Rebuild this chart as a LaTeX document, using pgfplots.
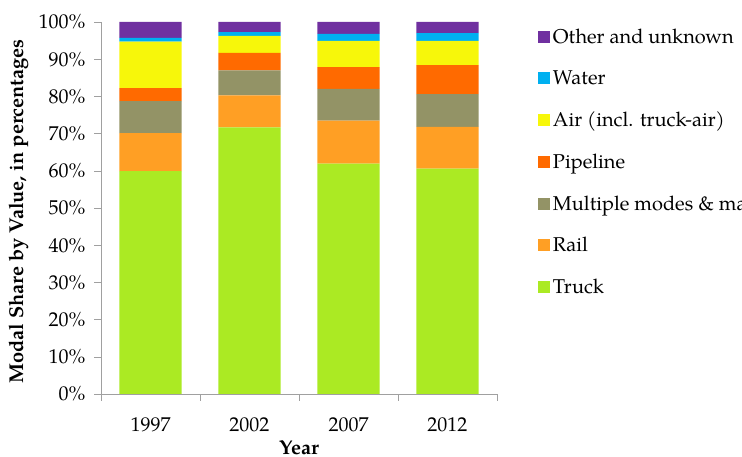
\documentclass[border=0pt]{standalone}
\usepackage{pgfplots}
\pgfplotsset{compat=1.18}
\usepackage{fontspec}
\setmainfont{TeX Gyre Pagella}

\definecolor{truck}{RGB}{171,234,35}
\definecolor{rail}{RGB}{255,159,36}
\definecolor{multi}{RGB}{147,147,102}
\definecolor{pipe}{RGB}{255,106,0}
\definecolor{air}{RGB}{247,247,10}
\definecolor{water}{RGB}{0,176,240}
\definecolor{other}{RGB}{112,48,160}
\definecolor{axgray}{RGB}{160,160,160}

\begin{document}
\begin{tikzpicture}
\begin{axis}[
  at={(101pt,63pt)}, anchor=south west,
  width=396pt, height=372pt, scale only axis,
  ybar stacked, bar width=62pt,
  xmin=-0.5, xmax=3.5, ymin=0, ymax=100,
  xtick={0,1,2,3},
  xticklabels={1997,2002,2007,2012},
  xtick style={draw=none},
  xticklabel style={yshift=-13pt},
  extra x ticks={-0.5,0.5,1.5,2.5,3.5},
  extra x tick labels={},
  extra x tick style={xtick style={draw=axgray}, major tick length=7pt, tick align=outside},
  ytick={0,10,...,100},
  yticklabel={\pgfmathprintnumber{\tick}\%},
  yticklabel style={xshift=-5pt},
  ytick style={draw=axgray},
  major tick length=7pt, tick align=outside,
  axis lines*=left,
  axis line style={draw=axgray, thin},
  every axis plot/.append style={draw=none},
  /pgf/number format/assume math mode=true,
  tick label style={font=\fontsize{20}{24}\selectfont, black},
  xlabel={Year},
  ylabel={Modal Share by Value, in percentages},
  xlabel style={font=\fontsize{20}{24}\selectfont\bfseries, at={(axis description cs:0.5,-0.144)}, anchor=center},
  ylabel style={font=\fontsize{20}{24}\selectfont\bfseries, at={(axis description cs:-0.207,0.49)}, anchor=center},
  reverse legend,
  legend cell align=left,
  legend style={at={(axis description cs:1.103,0.99)}, anchor=north west, draw=none, fill=none,
    font=\fontsize{20}{24}\selectfont, row sep=19.7pt, inner sep=0pt,
    nodes={inner sep=3pt}},
  legend image code/.code={\fill[#1] (0pt,-6pt) rectangle (12pt,6pt);},
]
\addplot[fill=truck] coordinates {(0,59.9) (1,71.7) (2,61.9) (3,60.6)};
\addlegendentry{Truck}
\addplot[fill=rail] coordinates {(0,10.2) (1,8.6) (2,11.6) (3,11.2)};
\addlegendentry{Rail}
\addplot[fill=multi] coordinates {(0,8.6) (1,6.7) (2,8.5) (3,8.8)};
\addlegendentry{Multiple modes \& mail}
\addplot[fill=pipe] coordinates {(0,3.5) (1,4.7) (2,5.9) (3,7.8)};
\addlegendentry{Pipeline}
\addplot[fill=air] coordinates {(0,12.5) (1,4.6) (2,7.0) (3,6.5)};
\addlegendentry{Air (incl. truck-air)}
\addplot[fill=water] coordinates {(0,1.0) (1,1.0) (2,1.9) (3,2.1)};
\addlegendentry{Water}
\addplot[fill=other] coordinates {(0,4.3) (1,2.7) (2,3.2) (3,3.0)};
\addlegendentry{Other and unknown}
\end{axis}
\pgfresetboundingbox
\useasboundingbox (0,0) rectangle (742pt,457pt);
\end{tikzpicture}
\end{document}
